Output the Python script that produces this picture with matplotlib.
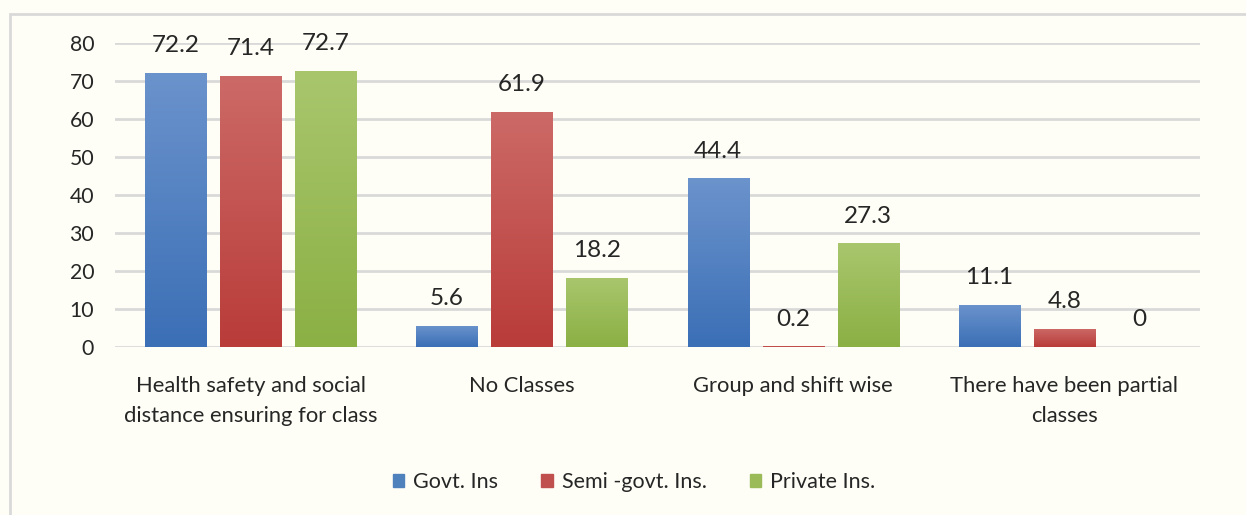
import numpy as np
import matplotlib.pyplot as plt
from matplotlib.colors import LinearSegmentedColormap
from matplotlib.patches import Rectangle

categories = ['Health safety and social\ndistance ensuring for class', 'No Classes',
              'Group and shift wise', 'There have been partial\nclasses']
series = ['Govt. Ins', 'Semi -govt. Ins.', 'Private Ins.']
govt = [72.2, 5.6, 44.4, 11.1]
semi = [71.4, 61.9, 0.2, 4.8]
private = [72.7, 18.2, 27.3, 0]
values = [govt, semi, private]

# top / bottom colours of the gradient fills
grad = [('#6B93CC', '#3B6FB6'), ('#CC6A67', '#B93C39'), ('#A9C66D', '#8BB044')]
legend_col = ['#4F81BD', '#C0504D', '#9BBB59']

plt.rcParams['font.family'] = ['Lato', 'DejaVu Sans']
bg = '#FEFEF6'
txt = '#262626'

fig = plt.figure(figsize=(12.46, 5.15), dpi=100, facecolor=bg)
fig.patches.append(Rectangle((10 / 1246, -0.1), 1.2, (515 - 14) / 515 + 0.1, transform=fig.transFigure,
                             fill=False, edgecolor='#D9D9D9', lw=2))
ax = fig.add_axes([115 / 1246, (515 - 347) / 515, (1200 - 115) / 1246, 304 / 515])
ax.set_facecolor(bg)

x = np.arange(len(categories))
w = 0.225
step = 0.2765
for i, (vals, (c_top, c_bot)) in enumerate(zip(values, grad)):
    bars = ax.bar(x + (i - 1) * step, vals, w, color='none', label=series[i], zorder=3)
    cmap = LinearSegmentedColormap.from_list('g%d' % i, [c_bot, c_top])
    for b, v in zip(bars, vals):
        if v > 0:
            im = ax.imshow(np.linspace(0, 1, 100).reshape(-1, 1), cmap=cmap, aspect='auto',
                           origin='lower', extent=[b.get_x(), b.get_x() + w, 0, v], zorder=3)
            im.set_clip_path(b)
        ax.annotate(f'{v:g}', (b.get_x() + w / 2, v), xytext=(0, 27), textcoords='offset pixels',
                    ha='center', va='center', fontsize=17.5, color=txt)

ax.set_xlim(-0.5, len(categories) - 0.5)
ax.set_ylim(0, 80)
ax.set_yticks(range(0, 81, 10))
ax.set_xticks(x)
ax.set_xticklabels(categories, fontsize=15.8, color=txt, linespacing=1.6)
ax.tick_params(axis='y', labelsize=15.3, labelcolor=txt, length=0, pad=15)
ax.tick_params(axis='x', length=0, pad=21)
ax.grid(axis='y', color='#D9D9D9', lw=2, zorder=0)
for s in ax.spines.values():
    s.set_visible(False)

handles = [Rectangle((0, 0), 1, 1, color=c) for c in legend_col]
fig.legend(handles, series, loc='center', bbox_to_anchor=(634 / 1246, 1 - 482 / 515), ncol=3,
           frameon=False, fontsize=15.5, handlelength=0.55, handleheight=0.55, handletextpad=0.4,
           columnspacing=2.0, labelcolor=txt)

fig.savefig('out.png', dpi=100, facecolor=bg)
